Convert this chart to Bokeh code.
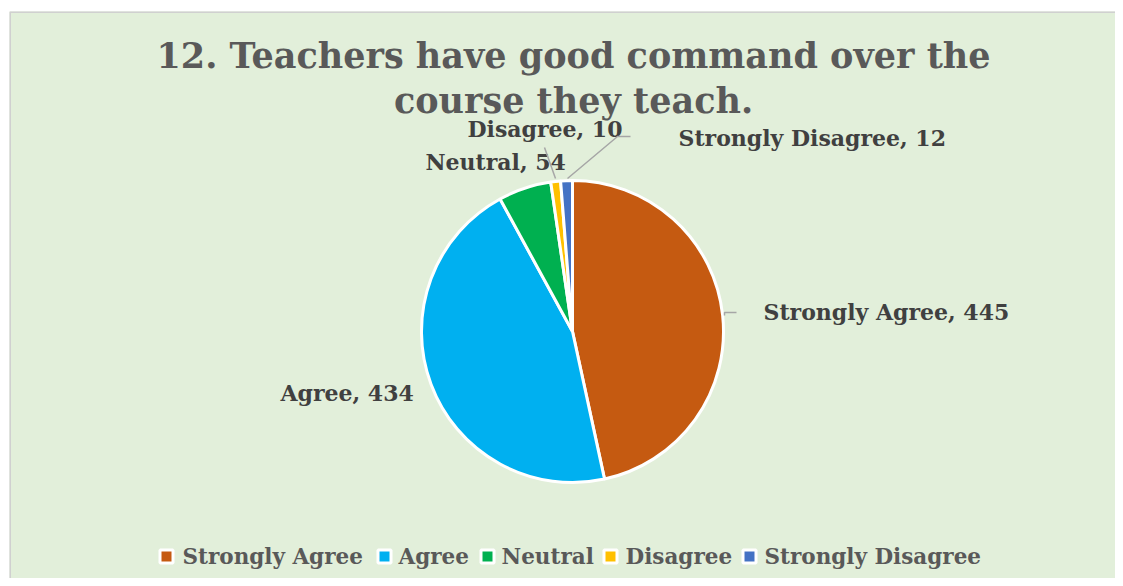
import numpy as np
from bokeh.plotting import figure
from bokeh.models import Range1d
from bokeh.embed import file_html
from bokeh.resources import INLINE
from bokeh.core.properties import value

categories = ["Strongly Agree", "Agree", "Neutral", "Disagree", "Strongly Disagree"]
counts = [445, 434, 54, 10, 12]
colors = ["#C55A11", "#00B0F0", "#00B050", "#FFC000", "#4472C4"]

W, H = 1115, 578
FONT = value("DejaVu Serif")

p = figure(width=W, height=H, output_backend="svg", toolbar_location=None,
           x_range=Range1d(9, W), y_range=Range1d(0, H - 11), min_border=0,
           min_border_left=9, min_border_top=11)
p.axis.visible = False
p.grid.visible = False
p.background_fill_color = "#E2EFDA"
p.border_fill_color = "white"
p.outline_line_color = None

# chart area border (left and top only visible in reference)
p.line([9.5, 9.5, W], [0, H - 11.5, H - 11.5], line_color="#D0D0D0", line_width=2)

# pie (data y = 578 - page y)
cx, cy, r = 572, 247, 151
vals = np.array(counts, dtype=float)
fr = vals / vals.sum()
ends = np.cumsum(fr) * 2 * np.pi
starts = np.concatenate([[0], ends[:-1]])
start_ang = np.pi / 2 - starts
end_ang = np.pi / 2 - ends
p.wedge(x=[cx] * 5, y=[cy] * 5, radius=r, start_angle=list(start_ang), end_angle=list(end_ang),
        direction="clock", fill_color=colors, line_color="white", line_width=3)

# title
for txt, y in [("12. Teachers have good command over the", 523), ("course they teach.", 478)]:
    p.text(x=[573], y=[y], text=[txt], text_font=FONT, text_font_style="bold",
           text_font_size="35px", text_color="#595959", text_align="center", text_baseline="middle")

# data labels
lab_x = [763, 280, 425, 467, 678]
lab_y = [267, 186, 417, 450, 441]
labels = [f"{c}, {v}" for c, v in zip(categories, counts)]
p.text(x=lab_x, y=lab_y, text=labels, text_font=FONT, text_font_style="bold",
       text_font_size="22px", text_color="#404040", text_align="left", text_baseline="middle")

# leader lines
p.line([724, 724, 736], [263, 266, 266], line_color="#A6A6A6", line_width=1.5)
p.line([544, 555], [431, 400], line_color="#A6A6A6", line_width=1.5)
p.line([630, 617, 567], [442, 442, 400], line_color="#A6A6A6", line_width=1.5)

# legend
sq_x = [166, 384, 487, 610, 749]
tx_x = [182, 398, 501, 625, 764]
ly = 22
p.rect(x=sq_x, y=[ly] * 5, width=13, height=13, fill_color=colors, line_color="white", line_width=3)
p.text(x=tx_x, y=[ly] * 5, text=categories, text_font=FONT, text_font_style="bold",
       text_font_size="21.5px", text_color="#595959", text_align="left", text_baseline="middle")

open("out.html", "w").write(file_html(p, INLINE))
